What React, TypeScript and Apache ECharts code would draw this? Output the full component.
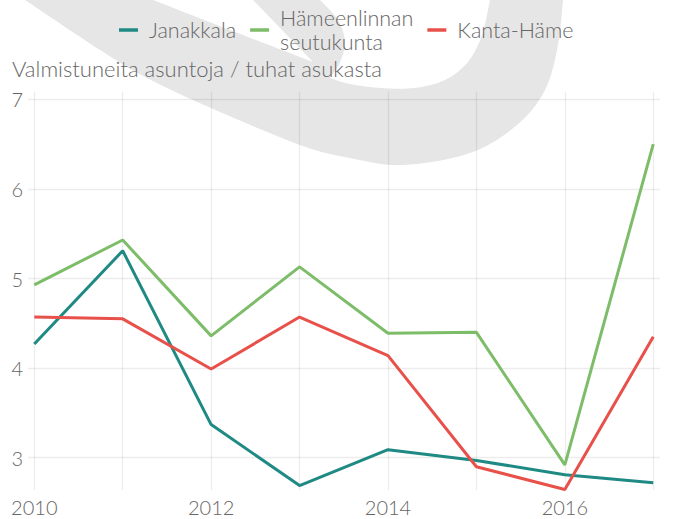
import React, { useEffect, useRef } from 'react';
import * as echarts from 'echarts';

// ---- data ----
const years = [2010, 2011, 2012, 2013, 2014, 2015, 2016, 2017];
const janakkala = [4.27, 5.31, 3.37, 2.69, 3.09, 2.97, 2.81, 2.72];
const hameenlinnanSeutukunta = [4.93, 5.43, 4.36, 5.13, 4.39, 4.4, 2.92, 6.5];
const kantaHame = [4.57, 4.55, 3.99, 4.57, 4.14, 2.9, 2.645, 4.35];
const seriesNames = ['Janakkala', 'Hämeenlinnan\nseutukunta', 'Kanta-Häme'];
const seriesColors = ['#1f8a83', '#7dbd69', '#e8504a'];
const yTickLabels = [3, 4, 5, 6, 7];
const xTickLabels = ['2010', '2012', '2014', '2016'];
const axisTitle = 'Valmistuneita asuntoja / tuhat asukasta';

// ---- watermark outline (decoration, pixel coords) ----
const wmOuter = [[25, 0], [100, 50], [147, 78], [211, 108], [300, 145], [350, 158], [403, 165], [470, 153], [517, 125], [545, 90], [558, 45], [563, 0]];
const wmInnerRight = [[490, 0], [482, 35], [468, 62], [445, 80], [415, 88], [380, 88], [350, 84], [330, 78]];
const wmTailRight = [[330, 78], [340, 62], [345, 42], [338, 20], [320, 0]];
const wmTailLeft = [[253, 0], [313, 62]];
const wmInnerLeft = [[313, 62], [230, 30], [153, 0]];

function smoothChain(pts: number[][]): string {
  let d = '';
  for (let i = 0; i < pts.length - 1; i++) {
    const p0 = pts[Math.max(0, i - 1)];
    const p1 = pts[i];
    const p2 = pts[i + 1];
    const p3 = pts[Math.min(pts.length - 1, i + 2)];
    const c1x = p1[0] + (p2[0] - p0[0]) / 6;
    const c1y = p1[1] + (p2[1] - p0[1]) / 6;
    const c2x = p2[0] - (p3[0] - p1[0]) / 6;
    const c2y = p2[1] - (p3[1] - p1[1]) / 6;
    d += ` C ${c1x} ${c1y} ${c2x} ${c2y} ${p2[0]} ${p2[1]}`;
  }
  return d;
}

function buildWatermark(): string {
  let d = `M ${wmOuter[0][0]} ${wmOuter[0][1]}`;
  d += smoothChain(wmOuter);
  d += ` L ${wmInnerRight[0][0]} ${wmInnerRight[0][1]}`;
  d += smoothChain(wmInnerRight);
  d += smoothChain(wmTailRight);
  d += ` L ${wmTailLeft[0][0]} ${wmTailLeft[0][1]}`;
  d += ` L ${wmTailLeft[1][0]} ${wmTailLeft[1][1]}`;
  d += smoothChain(wmInnerLeft);
  d += ' Z';
  return d;
}

let registered = false;

const FONT = 'Lato, "Noto Sans", sans-serif';
const TEXT_COLOR = '#666666';
const GRID_COLOR = 'rgba(0,0,0,0.075)';

export default function App() {
  const ref = useRef<HTMLDivElement>(null);

  useEffect(() => {
    if (!ref.current) return;
    if (!registered) {
      echarts.graphic.registerShape('wmlogo', echarts.graphic.extendPath(buildWatermark(), {}));
      registered = true;
    }
    const chart = echarts.init(ref.current, undefined, { renderer: 'svg' });
    const allSeries = [janakkala, hameenlinnanSeutukunta, kantaHame];

    chart.setOption({
      animation: false,
      backgroundColor: '#ffffff',
      title: {
        text: axisTitle,
        left: 12,
        top: 57,
        padding: 0,
        textStyle: { fontSize: 22, fontWeight: 300, color: TEXT_COLOR, fontFamily: FONT },
      },
      legend: {
        data: seriesNames,
        left: 114,
        top: 1,
        icon: 'rect',
        itemWidth: 19,
        itemHeight: 3.5,
        itemGap: 14,
        textStyle: { fontSize: 21.5, fontWeight: 300, color: TEXT_COLOR, fontFamily: FONT, lineHeight: 24, padding: [0, 0, 0, 6] },
      },
      graphic: [
        {
          type: 'wmlogo',
          x: 0,
          y: 0,
          scaleX: 1,
          scaleY: 1,
          z: -10,
          silent: true,
          style: { fill: '#e6e6e6' },
        },
      ],
      grid: { left: 28, right: 13, top: 91.7, bottom: 29, containLabel: false },
      xAxis: {
        type: 'value',
        min: 2009.929,
        max: 2017.076,
        minInterval: 1,
        maxInterval: 1,
        splitNumber: 7,
        axisLine: { show: false },
        axisTick: { show: false },
        splitLine: { show: true, showMinLine: false, showMaxLine: false, lineStyle: { color: GRID_COLOR, width: 1.3 } },
        axisLabel: {
          color: TEXT_COLOR,
          fontSize: 20,
          fontWeight: 300,
          fontFamily: FONT,
          margin: 7,
          showMinLabel: false,
          showMaxLabel: false,
          formatter: (v: number) => (xTickLabels.includes(String(v)) ? String(v) : ''),
        },
      },
      yAxis: {
        type: 'value',
        min: 2.64,
        max: 7.085,
        minInterval: 1,
        maxInterval: 1,
        axisLine: { show: false },
        axisTick: { show: false },
        splitLine: { show: true, showMinLine: false, showMaxLine: false, lineStyle: { color: GRID_COLOR, width: 1.3 } },
        axisLabel: {
          color: TEXT_COLOR,
          fontSize: 20,
          fontWeight: 300,
          fontFamily: FONT,
          margin: 5,
          showMinLabel: false,
          showMaxLabel: false,
          formatter: (v: number) => (yTickLabels.includes(v) ? String(v) : ''),
        },
      },
      series: seriesNames.map((name, k) => ({
        name,
        type: 'line',
        data: years.map((yr, i) => [yr, allSeries[k][i]]),
        showSymbol: false,
        symbol: 'none',
        clip: false,
        color: seriesColors[k],
        lineStyle: { width: 3, color: seriesColors[k] },
      })),
    });

    return () => chart.dispose();
  }, []);

  return (
    <div
      ref={ref}
      style={{ position: 'fixed', left: 0, top: 0, width: 673, height: 519 }}
    />
  );
}
